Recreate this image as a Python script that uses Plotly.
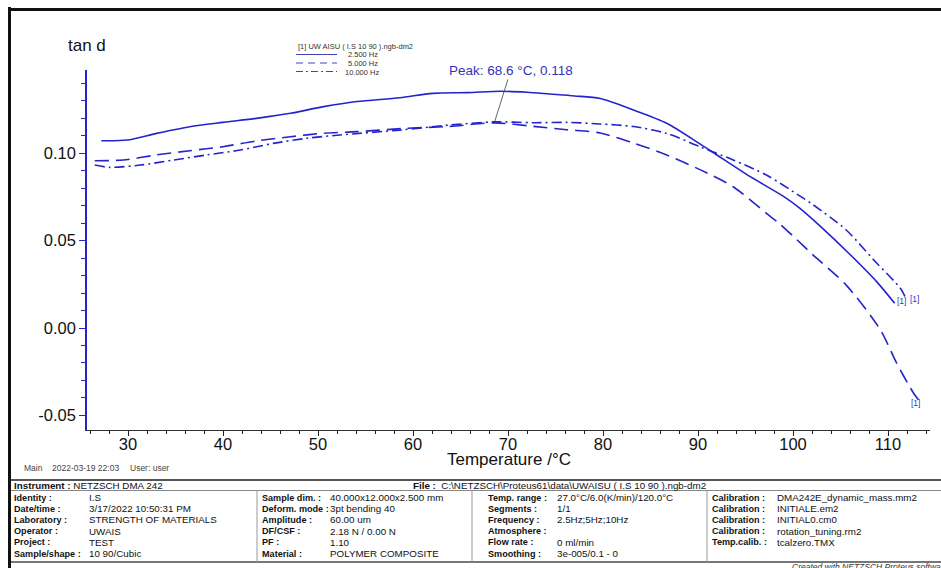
import plotly.graph_objects as go

# ---------------- data ----------------
series_names = ["2.500 Hz", "5.000 Hz", "10.000 Hz"]

temp_2p5 = [27.2, 29.9, 33.0, 36.5, 40.0, 43.5, 47.1, 50.6, 54.1, 58.6, 62.1, 65.7,
            69.2, 72.0, 74.4, 77.0, 79.7, 83.2, 86.7, 90.2, 91.6, 95.5, 99.0, 100.7,
            102.8, 106.0, 108.8, 110.7]
tand_2p5 = [0.1070, 0.1074, 0.1112, 0.1150, 0.1175, 0.1198, 0.1227, 0.1265, 0.1294, 0.1316,
            0.1341, 0.1345, 0.1353, 0.1347, 0.1337, 0.1326, 0.1311, 0.1246, 0.1170, 0.1052,
            0.1003, 0.0865, 0.0752, 0.0685, 0.0585, 0.0420, 0.0265, 0.0141]

temp_5 = [26.5, 29.5, 33.0, 36.5, 40.0, 43.5, 47.1, 50.6, 54.1, 59.3, 63.9, 68.6,
          72.7, 76.2, 79.7, 83.2, 86.7, 90.2, 93.7, 97.2, 98.6, 100.0, 102.1, 105.6,
          109.2, 110.9, 112.7, 113.2]
tand_5 = [0.0956, 0.0960, 0.0989, 0.1013, 0.1036, 0.1069, 0.1093, 0.1113, 0.1122, 0.1141,
          0.1152, 0.1172, 0.1152, 0.1133, 0.1114, 0.1057, 0.0989, 0.0905, 0.0807, 0.0655,
          0.0595, 0.0525, 0.0418, 0.0245, -0.0011, -0.0200, -0.0373, -0.0410]

temp_10 = [26.5, 28.1, 31.3, 34.8, 38.3, 41.8, 45.3, 48.8, 52.3, 58.6, 63.9, 68.5,
           72.7, 76.2, 79.7, 83.2, 86.7, 90.2, 93.7, 97.2, 100.7, 102.1, 105.6, 108.5,
           111.3, 111.8]
tand_10 = [0.0931, 0.0918, 0.0931, 0.0960, 0.0989, 0.1017, 0.1055, 0.1084, 0.1103, 0.1131,
           0.1160, 0.1178, 0.1173, 0.1175, 0.1166, 0.1151, 0.1112, 0.1036, 0.0960, 0.0874,
           0.0755, 0.0705, 0.0560, 0.0389, 0.0227, 0.0179]

peak_temp = 68.6
peak_tand = 0.118

x_ticks = [30, 40, 50, 60, 70, 80, 90, 100, 110]
y_ticks = [-0.05, 0.00, 0.05, 0.10]

info_rows = [
    ["Identity :", "I.S", "Sample dim. :", "40.000x12.000x2.500 mm",
     "Temp. range :", "27.0°C/6.0(K/min)/120.0°C", "Calibration :", "DMA242E_dynamic_mass.mm2"],
    ["Date/time :", "3/17/2022 10:50:31 PM", "Deform. mode :", "3pt bending 40",
     "Segments :", "1/1", "Calibration :", "INITIALE.em2"],
    ["Laboratory :", "STRENGTH OF MATERIALS", "Amplitude :", "60.00 um",
     "Frequency :", "2.5Hz;5Hz;10Hz", "Calibration :", "INITIAL0.cm0"],
    ["Operator :", "UWAIS", "DF/CSF :", "2.18 N / 0.00 N",
     "Atmosphere :", "", "Calibration :", "rotation_tuning.rm2"],
    ["Project :", "TEST", "PF :", "1.10",
     "Flow rate :", "0 ml/min", "Temp.calib. :", "tcalzero.TMX"],
    ["Sample/shape :", "10 90/Cubic", "Material :", "POLYMER COMPOSITE",
     "Smoothing :", "3e-005/0.1 - 0", "", ""],
]

# ---------------- styling / layout helpers ----------------
W, H = 941, 568
PL, PR, PT, PB = 87, 930, 70, 430
FONT = "Liberation Sans, Arial, sans-serif"
BLUE = "#2424cc"


def fx(p):
    return (p - PL) / (PR - PL)


def fy(p):
    return (PB - p) / (PB - PT)


fig = go.Figure()
styles = [dict(dash="solid"), dict(dash="14px,7px"), dict(dash="10px,4px,2px,4px")]
for name, xs, ys, st in zip(series_names, [temp_2p5, temp_5, temp_10],
                            [tand_2p5, tand_5, tand_10], styles):
    fig.add_trace(go.Scatter(x=xs, y=ys, mode="lines", name=name,
                             line=dict(color=BLUE, width=1.6, shape="spline",
                                       smoothing=0.8, **st),
                             showlegend=False))

fig.update_layout(
    width=W, height=H,
    margin=dict(l=PL, r=W - PR, t=PT, b=H - PB),
    paper_bgcolor="white", plot_bgcolor="white",
    font=dict(family=FONT, color="#111"),
    showlegend=False,
)
fig.update_xaxes(
    range=[25.684, 114.42], tickvals=x_ticks, ticks="outside", ticklen=5,
    tickcolor="#222", showline=True, linecolor="#333", linewidth=1.2,
    showgrid=False, zeroline=False, tickfont=dict(size=16.5, color="#111"),
    ticklabelstandoff=-6,
    minor=dict(dtick=2, tick0=0, ticks="outside", ticklen=3, tickcolor="#222"),
)
fig.update_yaxes(
    range=[-0.05829, 0.14743], tickvals=y_ticks,
    ticktext=[f"{v:.2f}" for v in y_ticks], ticks="outside",
    ticklen=6, tickcolor=BLUE, showline=True, linecolor=BLUE, linewidth=1.6,
    showgrid=False, zeroline=False, tickfont=dict(size=16.5, color="#111"),
    minor=dict(dtick=0.01, tick0=0, ticks="outside", ticklen=4, tickcolor=BLUE),
)

ann = []
shapes = []


def text(x, y, s, size=10, color="#111", anchor="left", **kw):
    ann.append(dict(x=fx(x), y=fy(y), xref="paper", yref="paper", text=s,
                    showarrow=False, xanchor=anchor, yanchor="middle",
                    font=dict(size=size, color=color, family=FONT), **kw))


def hline(x0, x1, y, color="#777", width=1.0, dash="solid"):
    shapes.append(dict(type="line", xref="paper", yref="paper", x0=fx(x0), x1=fx(x1),
                       y0=fy(y), y1=fy(y), line=dict(color=color, width=width, dash=dash)))


def vline(x, y0, y1, color="#777", width=1.0):
    shapes.append(dict(type="line", xref="paper", yref="paper", x0=fx(x), x1=fx(x),
                       y0=fy(y0), y1=fy(y1), line=dict(color=color, width=width)))


# axis titles
text(87, 45, "tan d", size=17, anchor="center")
text(508.5, 459, "Temperature /°C", size=17, anchor="center")

# legend block
text(296, 46.5, "[1] UW AISU ( I.S 10 90 ).ngb-dm2", size=7.5, color="#333")
leg_dash = ["solid", "7px,5px", "7px,3px,2px,3px"]
for i, (nm, dsh) in enumerate(zip(series_names, leg_dash)):
    yy = 54.5 + i * 8.5
    hline(296, 337, yy, color="#4444b8", width=1.1, dash=dsh)
    text(346 if i < 2 else 343, yy + 0.5, nm, size=7.5, color="#333")

# peak annotation
ann.append(dict(x=peak_temp, y=peak_tand, xref="x", yref="y",
                text=f"Peak: {peak_temp} °C, {peak_tand}", showarrow=True,
                arrowhead=0, arrowwidth=0.9, arrowcolor="#555", ax=16, ay=-51,
                font=dict(size=13.5, color="#3333bb", family=FONT)))

# end labels
for xs, ys, xa, xsh, ysh in [(temp_2p5, tand_2p5, "left", 0, 2),
                             (temp_10, tand_10, "left", 3, -2),
                             (temp_5, tand_5, "center", -3, -3)]:
    ann.append(dict(x=xs[-1], y=ys[-1], xref="x", yref="y", text="[1]",
                    showarrow=False, xanchor=xa, yanchor="middle", xshift=xsh,
                    yshift=ysh, font=dict(size=8.5, color="#3333cc", family=FONT)))

# footer info
text(22, 468, "Main", size=8.5, color="#444")
text(50, 468, "2022-03-19 22:03", size=8.5, color="#444")
text(128, 468, "User: user", size=8.5, color="#444")

# table lines
hline(9, 941, 480, color="#555", width=2)
hline(9, 941, 490.5, color="#888", width=1)
hline(9, 941, 562, color="#777", width=2)
vline(257, 490.5, 562, color="#999")
vline(472, 490.5, 562, color="#999")
vline(707, 490.5, 562, color="#999")

text(12, 485.5, "<b>Instrument :</b> NETZSCH DMA 242", size=9.8)
text(559, 485.5, r"<b>File :</b>  C:\NETZSCH\Proteus61\data\UWAISU ( I.S 10 90 ).ngb-dm2",
     size=9.8, anchor="center")

col_x = [12, 86.5, 259.5, 328, 486, 555, 710, 775]
for r, row in enumerate(info_rows):
    yy = 497.5 + r * 11.2
    for c, val in enumerate(row):
        if not val:
            continue
        s = f"<b>{val}</b>" if c % 2 == 0 else val
        text(col_x[c], yy, s, size=9.1 if c % 2 == 0 else 9.8)

text(790, 566.5, "<i>Created with NETZSCH Proteus software</i>", size=8.5, color="#333")

# outer frame
vline(9.5, 7, 568, color="#111", width=3)
hline(8, 941, 9.5, color="#111", width=3)

fig.update_layout(annotations=ann, shapes=shapes)
fig.write_html("out.html", config={"displayModeBar": False},
               post_script="document.body.style.margin='0';")
